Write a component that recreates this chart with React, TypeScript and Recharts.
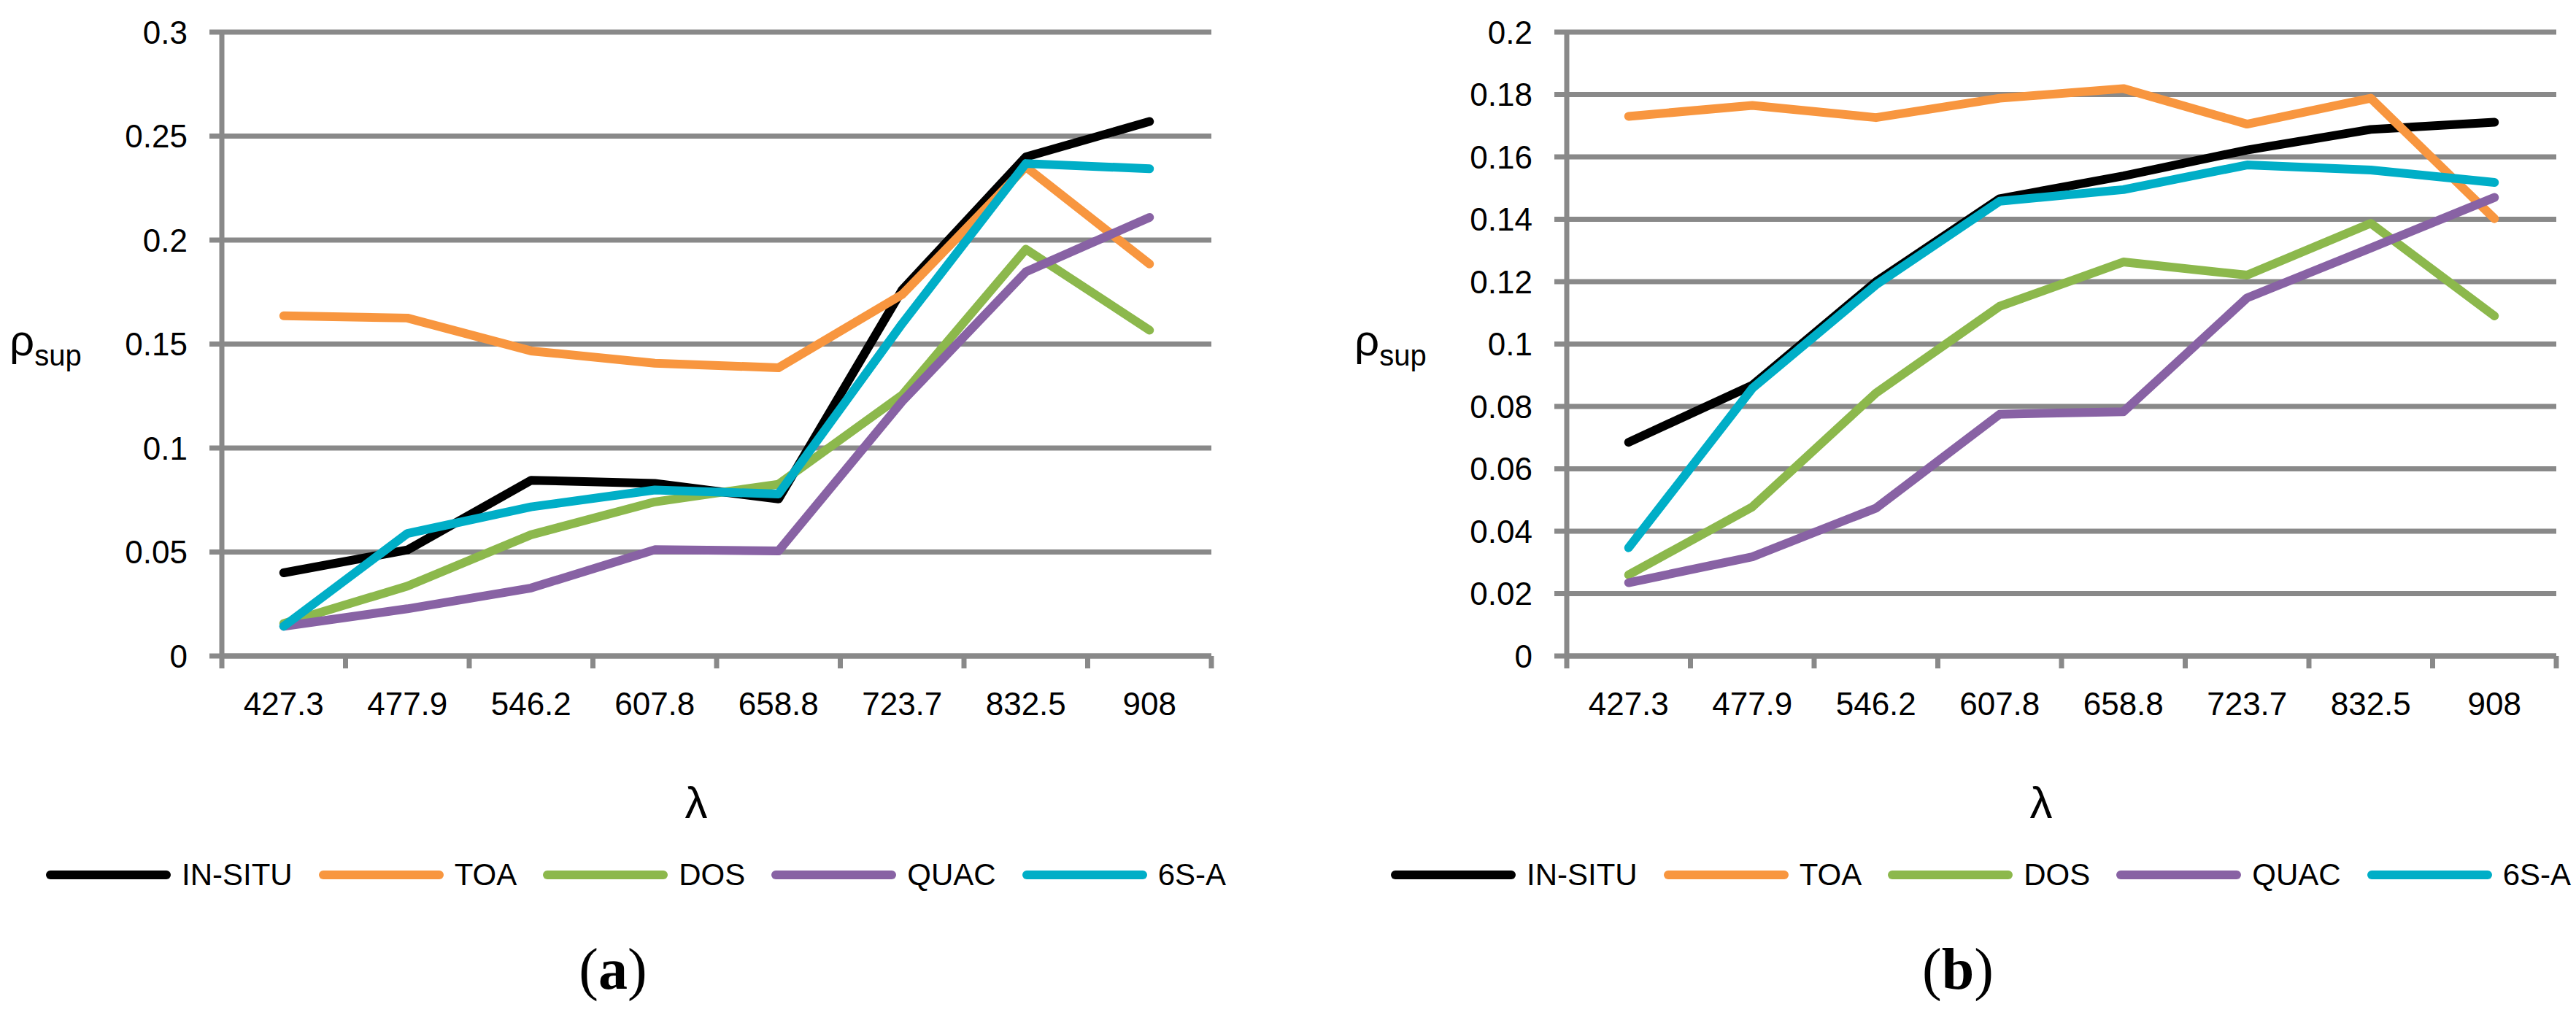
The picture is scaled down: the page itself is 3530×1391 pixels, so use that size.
import React from "react";
import { CartesianGrid, Line, LineChart, XAxis, YAxis } from "recharts";

const FONT = "'Liberation Sans', Arial, sans-serif";
const GRID = "#898989";

const CATEGORIES = ["427.3", "477.9", "546.2", "607.8", "658.8", "723.7", "832.5", "908"];

const SERIES = [
  { key: "insitu", name: "IN-SITU", color: "#000000" },
  { key: "toa", name: "TOA", color: "#F8963F" },
  { key: "dos", name: "DOS", color: "#8CB84C" },
  { key: "quac", name: "QUAC", color: "#8862A4" },
  { key: "sixs", name: "6S-A", color: "#00AEC7" },
];

// panel (a)
const A_INSITU = [0.04, 0.051, 0.0845, 0.083, 0.0755, 0.176, 0.24, 0.257];
const A_TOA = [0.1636, 0.1625, 0.1467, 0.1408, 0.1386, 0.1738, 0.2352, 0.1885];
const A_DOS = [0.0156, 0.0336, 0.0583, 0.0741, 0.0826, 0.1255, 0.1956, 0.1567];
const A_QUAC = [0.0143, 0.0227, 0.0327, 0.0511, 0.0505, 0.1224, 0.1847, 0.2109];
const A_SIXS = [0.0143, 0.0589, 0.0717, 0.0798, 0.0779, 0.1598, 0.2368, 0.2343];
const A_TICKS = [0, 0.05, 0.1, 0.15, 0.2, 0.25, 0.3];

// panel (b)
const B_INSITU = [0.0685, 0.0868, 0.12, 0.1466, 0.1539, 0.1622, 0.1688, 0.1711];
const B_TOA = [0.173, 0.1765, 0.1726, 0.1788, 0.1819, 0.1705, 0.1788, 0.1402];
const B_DOS = [0.026, 0.0478, 0.0843, 0.1121, 0.1263, 0.1221, 0.1387, 0.109];
const B_QUAC = [0.0235, 0.0318, 0.0474, 0.0775, 0.0783, 0.1148, 0.1308, 0.147];
const B_SIXS = [0.0347, 0.0858, 0.119, 0.1458, 0.1495, 0.1574, 0.1558, 0.1518];
const B_TICKS = [0, 0.02, 0.04, 0.06, 0.08, 0.1, 0.12, 0.14, 0.16, 0.18, 0.2];

function buildRows(cols: number[][]) {
  return CATEGORIES.map((band, i) => {
    const row: Record<string, string | number> = { band };
    SERIES.forEach((s, j) => {
      row[s.key] = cols[j][i];
    });
    return row;
  });
}

const PANEL_W = 1765;
const PANEL_H = 1391;
const PLOT_W = 1356;

function BandTick(props: any) {
  const { x, y, payload, index } = props;
  const half = payload?.offset || PLOT_W / CATEGORIES.length / 2;
  const last = index === CATEGORIES.length - 1;
  return (
    <g>
      <line x1={x - half} x2={x - half} y1={y} y2={y + 17} stroke={GRID} strokeWidth={7} />
      {last && <line x1={x + half} x2={x + half} y1={y} y2={y + 17} stroke={GRID} strokeWidth={7} />}
      <text x={x} y={y + 65} textAnchor="middle" dominantBaseline="central" fontSize={44} fontFamily={FONT} fill="#000">
        {payload.value}
      </text>
    </g>
  );
}

function Panel({
  left,
  plotLeft,
  rows,
  ticks,
  label,
}: {
  left: number;
  plotLeft: number;
  rows: Record<string, string | number>[];
  ticks: number[];
  label: string;
}) {
  const yAxisW = 104;
  const plotCenter = plotLeft + PLOT_W / 2;
  return (
    <div style={{ position: "absolute", left, top: 0, width: PANEL_W, height: PANEL_H }}>
      <LineChart
        width={PANEL_W}
        height={PANEL_H}
        data={rows}
        margin={{ top: 44, right: PANEL_W - plotLeft - PLOT_W, left: plotLeft - yAxisW, bottom: 432 }}
      >
        <CartesianGrid vertical={false} stroke={GRID} strokeWidth={7} />
        <XAxis
          dataKey="band"
          scale="band"
          interval={0}
          height={60}
          tickSize={0}
          tickMargin={0}
          tickLine={false}
          axisLine={{ stroke: GRID, strokeWidth: 7 }}
          tick={<BandTick />}
        />
        <YAxis
          width={yAxisW}
          domain={[0, ticks[ticks.length - 1]]}
          ticks={ticks}
          interval={0}
          tickSize={17}
          tickMargin={30}
          tickLine={{ stroke: GRID, strokeWidth: 7 }}
          axisLine={{ stroke: GRID, strokeWidth: 7 }}
          tick={{ fontSize: 44, fontFamily: FONT, fill: "#000" }}
          tickFormatter={(v) => String(v)}
        />
        {SERIES.map((s) => (
          <Line
            key={s.key}
            type="linear"
            dataKey={s.key}
            name={s.name}
            stroke={s.color}
            strokeWidth={12}
            strokeLinecap="round"
            strokeLinejoin="round"
            dot={false}
            activeDot={false}
            isAnimationActive={false}
          />
        ))}
      </LineChart>

      <div style={{ position: "absolute", left: plotLeft - 291, top: 432, fontFamily: FONT, color: "#000", whiteSpace: "nowrap" }}>
        <span style={{ fontSize: 60 }}>ρ</span>
        <span style={{ fontSize: 40, position: "relative", top: 14 }}>sup</span>
      </div>

      <div
        style={{
          position: "absolute",
          left: plotCenter - 28,
          top: 1100,
          transform: "translate(-50%, -50%)",
          fontFamily: FONT,
          fontSize: 62,
          lineHeight: 1,
        }}
      >
        λ
      </div>

      <div
        style={{
          position: "absolute",
          left: plotLeft - 241,
          top: 1199,
          transform: "translateY(-50%)",
          display: "flex",
          alignItems: "center",
          fontFamily: FONT,
          fontSize: 42,
          whiteSpace: "nowrap",
        }}
      >
        {SERIES.map((s) => (
          <div key={s.key} style={{ display: "flex", alignItems: "center", marginRight: 36 }}>
            <div style={{ width: 171, height: 12, borderRadius: 6, background: s.color, marginRight: 15 }} />
            <span>{s.name}</span>
          </div>
        ))}
      </div>

      <div
        style={{
          position: "absolute",
          left: plotLeft + 536,
          top: 1328,
          transform: "translate(-50%, -50%)",
          fontFamily: "'Liberation Serif', 'DejaVu Serif', serif",
          fontSize: 80,
          lineHeight: 1,
          whiteSpace: "nowrap",
        }}
      >
        (<b>{label}</b>)
      </div>
    </div>
  );
}

export default function App() {
  const rowsA = buildRows([A_INSITU, A_TOA, A_DOS, A_QUAC, A_SIXS]);
  const rowsB = buildRows([B_INSITU, B_TOA, B_DOS, B_QUAC, B_SIXS]);
  return (
    <div style={{ position: "absolute", left: 0, top: 0, width: 3530, height: 1391, background: "#fff", overflow: "hidden" }}>
      <Panel left={0} plotLeft={304} rows={rowsA} ticks={A_TICKS} label="a" />
      <Panel left={1765} plotLeft={382} rows={rowsB} ticks={B_TICKS} label="b" />
    </div>
  );
}
